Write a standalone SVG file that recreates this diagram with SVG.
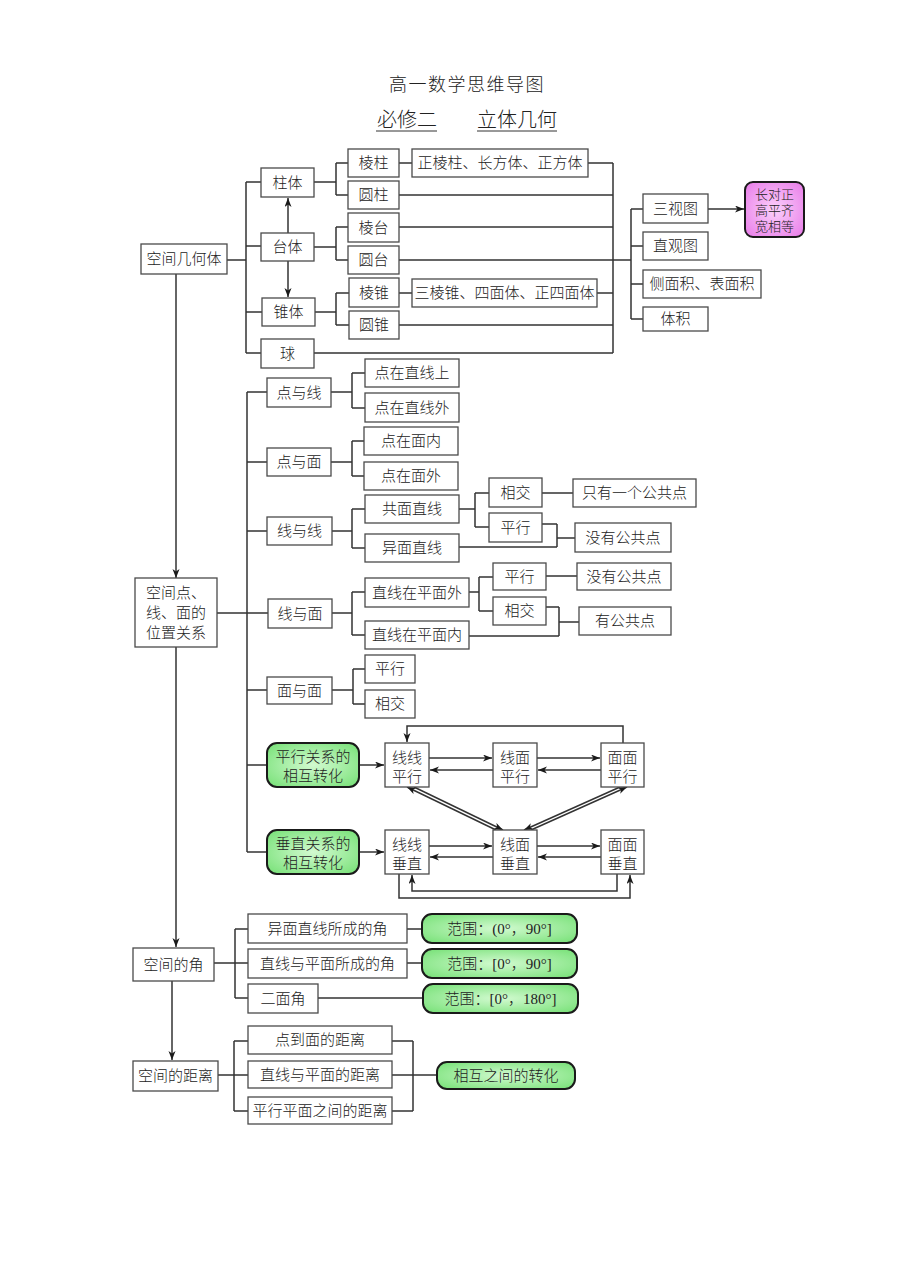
<svg xmlns="http://www.w3.org/2000/svg" width="920" height="1274" viewBox="0 0 920 1274">
<defs>
<radialGradient id="green" cx="50%" cy="50%" r="70%"><stop offset="0" stop-color="#d2fad0"/><stop offset="1" stop-color="#74e074"/></radialGradient>
<radialGradient id="pink" cx="50%" cy="50%" r="70%"><stop offset="0" stop-color="#fbd0fb"/><stop offset="1" stop-color="#e87ae8"/></radialGradient>
<marker id="arr" markerUnits="userSpaceOnUse" markerWidth="10" markerHeight="8" refX="9" refY="3.5" orient="auto"><path d="M0,0 L9,3.5 L0,7 L2.5,3.5 Z" fill="#1a1a1a"/></marker>
<style>
.box{fill:#fff;stroke:#4a4a4a;stroke-width:1.3}
.g{fill:url(#green);stroke:#1a1a1a;stroke-width:2}
.p{fill:url(#pink);stroke:#1a1a1a;stroke-width:2}
.ln{fill:none;stroke:#333;stroke-width:1.5}
.ar{marker-end:url(#arr)}
text{font-family:'Liberation Serif','Noto Sans CJK SC',serif;fill:#222;text-anchor:middle;font-weight:300}
.t{font-size:15px}
.s{font-size:13px}
</style>
</defs>
<rect width="920" height="1274" fill="#fff"/>
<g id="title">
<text x="467" y="91" style="font-size:18px;letter-spacing:1.5px">高一数学思维导图</text>
<text x="407" y="127" style="font-size:20px">必修二</text>
<text x="517" y="127" style="font-size:20px">立体几何</text>
<line x1="376" y1="131" x2="437" y2="131" stroke="#333" stroke-width="1"/>
<line x1="477" y1="131" x2="557" y2="131" stroke="#333" stroke-width="1"/>
</g>
<g id="connectors">
<path class="ln ar" d="M176,274 V578"/>
<path class="ln ar" d="M176,647 V947"/>
<path class="ln ar" d="M172,981 V1060"/>
<path class="ln" d="M226,260 H246 M246,182 V353 M246,182 H261 M246,246 H261 M246,312 H262 M246,353 H261"/>
<path class="ln ar" d="M288,233 V198"/>
<path class="ln ar" d="M288,261 V297"/>
<path class="ln" d="M314,182 H336 M336,163 V195 M336,163 H348 M336,195 H348"/>
<path class="ln" d="M314,247 H336 M336,227 V260 M336,227 H348 M336,260 H348"/>
<path class="ln" d="M315,312 H336 M336,293 V325 M336,293 H349 M336,325 H349"/>
<path class="ln" d="M399,163 H412 M588,163 H613 M399,195 H613 M399,227 H613 M399,260 H631 M399,293 H412 M597,293 H613 M399,325 H613 M314,353 H613 M613,163 V353"/>
<path class="ln" d="M631,209 V319 M631,209 H643 M631,246 H643 M631,284 H643 M631,319 H643"/>
<path class="ln ar" d="M708,209 H744"/>
<path class="ln" d="M217,613 H247 M247,392 V852 M247,392 H267 M247,462 H267 M247,531 H267 M247,613 H268 M247,690 H267 M247,765 H267 M247,852 H267"/>
<path class="ln" d="M331,392 H352 M352,373 V408 M352,373 H365 M352,408 H365"/>
<path class="ln" d="M331,462 H352 M352,441 V476 M352,441 H364 M352,476 H364"/>
<path class="ln" d="M332,531 H352 M352,509 V548 M352,509 H365 M352,548 H365"/>
<path class="ln" d="M332,613 H352 M352,592 V635 M352,592 H365 M352,635 H365"/>
<path class="ln" d="M332,690 H353 M353,669 V704 M353,669 H365 M353,704 H365"/>
<path class="ln" d="M459,509 H475 M475,493 V527 M475,493 H489 M475,527 H489 M542,493 H573"/>
<path class="ln" d="M542,524 H557 M557,524 V547 M459,547 H557 M557,538 H575"/>
<path class="ln" d="M469,592 H479 M479,577 V611 M479,577 H493 M479,611 H493 M546,576 H577"/>
<path class="ln" d="M546,607 H559 M559,607 V636 M469,636 H559 M559,622 H579"/>
<path class="ln ar" d="M359,765 H384"/>
<path class="ln ar" d="M359,852 H384"/>
<path class="ln ar" d="M623,743 V726 H407 V742"/>
<path class="ln ar" d="M429,758 H492"/>
<path class="ln ar" d="M493,770 H430"/>
<path class="ln ar" d="M537,758 H600"/>
<path class="ln ar" d="M601,770 H538"/>
<path class="ln ar" d="M414,787 L503,830"/>
<path class="ln ar" d="M496,830 L407,787"/>
<path class="ln ar" d="M531,830 L627,787"/>
<path class="ln ar" d="M620,787 L524,830"/>
<path class="ln ar" d="M429,846 H492"/>
<path class="ln ar" d="M493,857 H430"/>
<path class="ln ar" d="M537,846 H600"/>
<path class="ln ar" d="M601,857 H538"/>
<path class="ln ar" d="M399,874 V898 H630 V875"/>
<path class="ln ar" d="M617,874 V891 H412 V875"/>
<path class="ln" d="M214,963 H235 M235,929 V998 M235,929 H248 M235,963 H248 M235,998 H248 M407,929 H422 M407,963 H422 M318,998 H423"/>
<path class="ln" d="M218,1075 H234 M234,1041 V1111 M234,1041 H248 M234,1075 H248 M234,1111 H248 M392,1041 H413 M392,1075 H413 M392,1111 H413 M413,1041 V1111 M413,1075 H437"/>
</g>
<g id="n-kongjianjihe"><rect class="box" x="141" y="244" width="86" height="30"/><text class="t" x="184" y="264">空间几何体</text></g>
<g id="n-zhuti"><rect class="box" x="261" y="168" width="53" height="29"/><text class="t" x="287.5" y="188">柱体</text></g>
<g id="n-taiti"><rect class="box" x="261" y="233" width="53" height="28"/><text class="t" x="287.5" y="252">台体</text></g>
<g id="n-zhuiti"><rect class="box" x="262" y="298" width="53" height="28"/><text class="t" x="288.5" y="317">锥体</text></g>
<g id="n-qiu"><rect class="box" x="261" y="339" width="53" height="29"/><text class="t" x="287.5" y="359">球</text></g>
<g id="n-lengzhu"><rect class="box" x="348" y="149" width="51" height="28"/><text class="t" x="373.5" y="168">棱柱</text></g>
<g id="n-yuanzhu"><rect class="box" x="348" y="181" width="51" height="28"/><text class="t" x="373.5" y="200">圆柱</text></g>
<g id="n-lengtai"><rect class="box" x="348" y="213" width="51" height="29"/><text class="t" x="373.5" y="233">棱台</text></g>
<g id="n-yuantai"><rect class="box" x="348" y="246" width="51" height="28"/><text class="t" x="373.5" y="265">圆台</text></g>
<g id="n-lengzhui"><rect class="box" x="349" y="278" width="50" height="29"/><text class="t" x="374" y="298">棱锥</text></g>
<g id="n-yuanzhui"><rect class="box" x="349" y="311" width="50" height="28"/><text class="t" x="374" y="330">圆锥</text></g>
<g id="n-zhenglengzhu"><rect class="box" x="412" y="149" width="176" height="28"/><text class="t" x="500" y="168">正棱柱、长方体、正方体</text></g>
<g id="n-sanlengzhui"><rect class="box" x="412" y="279" width="185" height="28"/><text class="t" x="504.5" y="298">三棱锥、四面体、正四面体</text></g>
<g id="n-sanshitu"><rect class="box" x="643" y="194" width="65" height="29"/><text class="t" x="675.5" y="214">三视图</text></g>
<g id="n-zhiguantu"><rect class="box" x="643" y="232" width="65" height="28"/><text class="t" x="675.5" y="251">直观图</text></g>
<g id="n-mianji"><rect class="box" x="643" y="270" width="118" height="28"/><text class="t" x="702" y="289">侧面积、表面积</text></g>
<g id="n-tiji"><rect class="box" x="643" y="307" width="65" height="24"/><text class="t" x="675.5" y="324">体积</text></g>
<g id="n-changduizheng"><rect class="p" x="745" y="182" width="59" height="55" rx="8"/><text class="s" x="774.5" y="199">长对正</text><text class="s" x="774.5" y="215">高平齐</text><text class="s" x="774.5" y="231">宽相等</text></g>
<g id="n-weizhi"><rect class="box" x="135" y="578" width="82" height="69"/><text class="t" x="176" y="598">空间点、</text><text class="t" x="176" y="618">线、面的</text><text class="t" x="176" y="638">位置关系</text></g>
<g id="n-dianyuxian"><rect class="box" x="267" y="378" width="64" height="29"/><text class="t" x="299" y="398">点与线</text></g>
<g id="n-dianyumian"><rect class="box" x="267" y="448" width="64" height="28"/><text class="t" x="299" y="467">点与面</text></g>
<g id="n-xianyuxian"><rect class="box" x="267" y="517" width="65" height="28"/><text class="t" x="299.5" y="536">线与线</text></g>
<g id="n-xianyumian"><rect class="box" x="268" y="599" width="64" height="29"/><text class="t" x="300" y="619">线与面</text></g>
<g id="n-mianyumian"><rect class="box" x="267" y="677" width="65" height="27"/><text class="t" x="299.5" y="696">面与面</text></g>
<g id="n-pingxingzh"><rect class="g" x="267" y="743" width="92" height="44" rx="10"/><text class="t" x="313" y="762">平行关系的</text><text class="t" x="313" y="781">相互转化</text></g>
<g id="n-chuizhizh"><rect class="g" x="267" y="830" width="92" height="44" rx="10"/><text class="t" x="313" y="849">垂直关系的</text><text class="t" x="313" y="868">相互转化</text></g>
<g id="n-zaizhixianshang"><rect class="box" x="365" y="359" width="94" height="28"/><text class="t" x="412" y="378">点在直线上</text></g>
<g id="n-zaizhixianwai"><rect class="box" x="365" y="393" width="94" height="29"/><text class="t" x="412" y="413">点在直线外</text></g>
<g id="n-zaimiannei"><rect class="box" x="364" y="427" width="94" height="28"/><text class="t" x="411" y="446">点在面内</text></g>
<g id="n-zaimianwai"><rect class="box" x="364" y="462" width="94" height="28"/><text class="t" x="411" y="481">点在面外</text></g>
<g id="n-gongmian"><rect class="box" x="365" y="495" width="94" height="28"/><text class="t" x="412" y="514">共面直线</text></g>
<g id="n-yimian"><rect class="box" x="365" y="534" width="94" height="28"/><text class="t" x="412" y="553">异面直线</text></g>
<g id="n-pingmianwai"><rect class="box" x="365" y="578" width="104" height="29"/><text class="t" x="417" y="598">直线在平面外</text></g>
<g id="n-pingmiannei"><rect class="box" x="365" y="621" width="104" height="28"/><text class="t" x="417" y="640">直线在平面内</text></g>
<g id="n-mm-pingxing"><rect class="box" x="365" y="655" width="50" height="28"/><text class="t" x="390" y="674">平行</text></g>
<g id="n-mm-xiangjiao"><rect class="box" x="365" y="690" width="50" height="28"/><text class="t" x="390" y="709">相交</text></g>
<g id="n-xx-xiangjiao"><rect class="box" x="489" y="478" width="53" height="29"/><text class="t" x="515.5" y="498">相交</text></g>
<g id="n-xx-pingxing"><rect class="box" x="489" y="513" width="53" height="29"/><text class="t" x="515.5" y="533">平行</text></g>
<g id="n-zhiyouyige"><rect class="box" x="573" y="479" width="123" height="28"/><text class="t" x="634.5" y="498">只有一个公共点</text></g>
<g id="n-meiyou1"><rect class="box" x="575" y="523" width="96" height="29"/><text class="t" x="623" y="543">没有公共点</text></g>
<g id="n-xm-pingxing"><rect class="box" x="493" y="563" width="53" height="27"/><text class="t" x="519.5" y="582">平行</text></g>
<g id="n-xm-xiangjiao"><rect class="box" x="493" y="597" width="53" height="28"/><text class="t" x="519.5" y="616">相交</text></g>
<g id="n-meiyou2"><rect class="box" x="577" y="563" width="94" height="27"/><text class="t" x="624" y="582">没有公共点</text></g>
<g id="n-yougonggong"><rect class="box" x="579" y="607" width="92" height="28"/><text class="t" x="625" y="626">有公共点</text></g>
<g id="n-xxpx"><rect class="box" x="385" y="743" width="44" height="44"/><text class="t" x="407" y="763">线线</text><text class="t" x="407" y="782">平行</text></g>
<g id="n-xmpx"><rect class="box" x="493" y="743" width="44" height="44"/><text class="t" x="515" y="763">线面</text><text class="t" x="515" y="782">平行</text></g>
<g id="n-mmpx"><rect class="box" x="601" y="743" width="43" height="44"/><text class="t" x="622.5" y="763">面面</text><text class="t" x="622.5" y="782">平行</text></g>
<g id="n-xxcz"><rect class="box" x="385" y="830" width="44" height="44"/><text class="t" x="407" y="850">线线</text><text class="t" x="407" y="869">垂直</text></g>
<g id="n-xmcz"><rect class="box" x="493" y="830" width="44" height="44"/><text class="t" x="515" y="850">线面</text><text class="t" x="515" y="869">垂直</text></g>
<g id="n-mmcz"><rect class="box" x="601" y="830" width="43" height="44"/><text class="t" x="622.5" y="850">面面</text><text class="t" x="622.5" y="869">垂直</text></g>
<g id="n-kongjiandejiao"><rect class="box" x="133" y="948" width="81" height="33"/><text class="t" x="173.5" y="970">空间的角</text></g>
<g id="n-yimianjiao"><rect class="box" x="248" y="914" width="159" height="29"/><text class="t" x="327.5" y="934">异面直线所成的角</text></g>
<g id="n-xianmianjiao"><rect class="box" x="248" y="949" width="159" height="29"/><text class="t" x="327.5" y="969">直线与平面所成的角</text></g>
<g id="n-ermianjiao"><rect class="box" x="248" y="984" width="70" height="29"/><text class="t" x="283" y="1004">二面角</text></g>
<g id="n-fanwei1"><rect class="g" x="422" y="914" width="155" height="29" rx="10"/><text class="t" x="499.5" y="934">范围：(0°，90°]</text></g>
<g id="n-fanwei2"><rect class="g" x="422" y="949" width="155" height="29" rx="10"/><text class="t" x="499.5" y="969">范围：[0°，90°]</text></g>
<g id="n-fanwei3"><rect class="g" x="423" y="984" width="155" height="29" rx="10"/><text class="t" x="500.5" y="1004">范围：[0°，180°]</text></g>
<g id="n-kongjianjuli"><rect class="box" x="133" y="1061" width="85" height="30"/><text class="t" x="175.5" y="1081">空间的距离</text></g>
<g id="n-diandaomian"><rect class="box" x="248" y="1026" width="144" height="28"/><text class="t" x="320" y="1045">点到面的距离</text></g>
<g id="n-xianmianjuli"><rect class="box" x="248" y="1061" width="144" height="27"/><text class="t" x="320" y="1080">直线与平面的距离</text></g>
<g id="n-pingmianjuli"><rect class="box" x="248" y="1097" width="144" height="27"/><text class="t" x="320" y="1116">平行平面之间的距离</text></g>
<g id="n-xianghu"><rect class="g" x="437" y="1062" width="138" height="27" rx="10"/><text class="t" x="506" y="1081">相互之间的转化</text></g>
</svg>
